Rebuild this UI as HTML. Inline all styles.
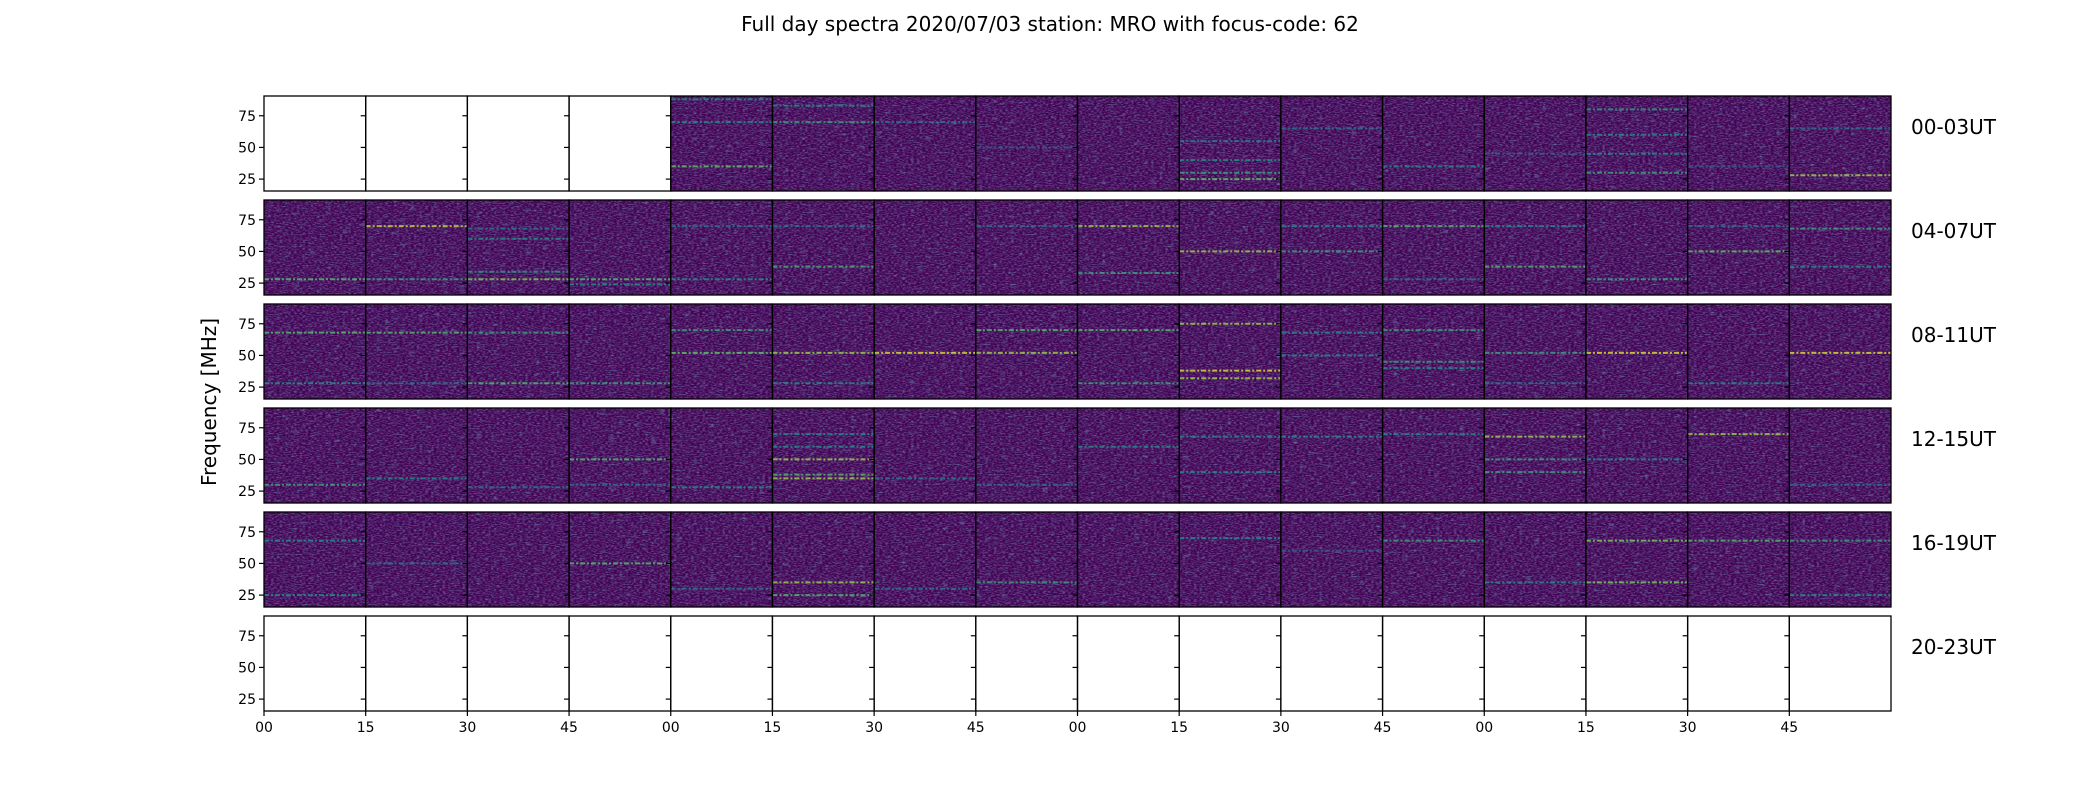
<!DOCTYPE html>
<html><head><meta charset="utf-8"><style>
body{margin:0;background:#fff;}
svg{display:block;font-family:"DejaVu Sans","Liberation Sans",sans-serif;}
</style></head><body>
<svg id="chart" width="2100" height="800" viewBox="0 0 2100 800">
<defs>
<filter id="noise" x="0" y="0" width="100%" height="100%">
<feTurbulence type="fractalNoise" baseFrequency="0.35 0.9" numOctaves="2" seed="3"/>
<feColorMatrix type="matrix" values="0 0 0 0 0.22  0 0 0 0 0.33  0 0 0 0 0.55  1.3 0 0 0 -0.52"/>
</filter>
<filter id="noise2" x="0" y="0" width="100%" height="100%">
<feTurbulence type="fractalNoise" baseFrequency="0.12 0.5" numOctaves="1" seed="9"/>
<feColorMatrix type="matrix" values="0 0 0 0 0.16  0 0 0 0 0.47  0 0 0 0 0.56  1.6 0 0 0 -0.95"/>
</filter>
</defs>
<text x="1050" y="31" text-anchor="middle" font-size="20" fill="#000">Full day spectra 2020/07/03 station: MRO with focus-code: 62</text>
<text transform="translate(216,402) rotate(-90)" text-anchor="middle" font-size="20" fill="#000">Frequency [MHz]</text>
<g id="plots"></g>
</svg>
<script>
const rowLabels = ["00-03UT","04-07UT","08-11UT","12-15UT","16-19UT","20-23UT"];
const xTickLabels = ["00","15","30","45","00","15","30","45","00","15","30","45","00","15","30","45"];
const yTickValues = [25,50,75];
const emptyPanels = [[0,0],[0,1],[0,2],[0,3],[5,0],[5,1],[5,2],[5,3],[5,4],[5,5],[5,6],[5,7],[5,8],[5,9],[5,10],[5,11],[5,12],[5,13],[5,14],[5,15]];
// bands: [row, col, freqMHz, level(0-1)]
const bands = [
[0,4,70,0.5],[0,4,35,0.75],[0,4,88,0.5],[0,5,83,0.5],[0,5,70,0.6],[0,6,70,0.4],[0,7,50,0.3],
[0,9,30,0.6],[0,9,25,0.75],[0,9,40,0.5],[0,9,55,0.45],[0,10,65,0.4],[0,11,35,0.5],[0,12,45,0.3],
[0,13,30,0.6],[0,13,45,0.5],[0,13,60,0.5],[0,13,80,0.55],[0,14,35,0.3],[0,15,28,0.85],[0,15,65,0.4],
[1,0,28,0.7],[1,1,70,0.9],[1,1,28,0.6],[1,2,28,0.8],[1,2,34,0.55],[1,2,60,0.5],[1,2,68,0.4],[1,3,28,0.7],[1,3,24,0.5],
[1,4,28,0.5],[1,4,70,0.4],[1,5,70,0.4],[1,5,38,0.65],[1,7,70,0.4],[1,8,70,0.85],[1,8,33,0.6],[1,9,50,0.85],
[1,10,50,0.6],[1,10,70,0.5],[1,11,70,0.7],[1,11,28,0.4],[1,12,70,0.5],[1,12,38,0.7],[1,13,28,0.6],[1,14,50,0.75],[1,14,70,0.4],[1,15,68,0.6],[1,15,38,0.5],
[2,0,68,0.7],[2,0,28,0.5],[2,1,68,0.7],[2,1,28,0.4],[2,2,68,0.6],[2,2,28,0.7],[2,3,28,0.6],[2,4,70,0.6],[2,4,52,0.75],
[2,5,52,0.85],[2,5,28,0.5],[2,6,52,0.95],[2,7,52,0.85],[2,7,70,0.7],[2,8,70,0.7],[2,8,28,0.6],[2,9,38,0.95],[2,9,32,0.85],[2,9,75,0.85],
[2,10,50,0.5],[2,10,68,0.5],[2,11,70,0.6],[2,11,45,0.6],[2,11,40,0.5],[2,12,52,0.6],[2,12,28,0.4],[2,13,52,0.95],[2,14,28,0.5],[2,15,52,0.95],
[3,0,30,0.6],[3,1,35,0.5],[3,2,28,0.4],[3,3,50,0.7],[3,3,30,0.4],[3,4,28,0.5],[3,5,35,0.85],[3,5,38,0.7],[3,5,50,0.85],[3,5,60,0.5],[3,5,70,0.5],
[3,6,35,0.4],[3,7,30,0.4],[3,8,60,0.5],[3,9,40,0.5],[3,9,68,0.5],[3,10,68,0.5],[3,11,70,0.5],[3,12,68,0.85],[3,12,40,0.6],[3,12,50,0.6],[3,13,50,0.5],[3,14,70,0.85],[3,15,30,0.4],
[4,0,68,0.5],[4,0,25,0.5],[4,1,50,0.4],[4,3,50,0.7],[4,4,30,0.4],[4,5,35,0.85],[4,5,25,0.7],[4,6,30,0.4],[4,7,35,0.6],[4,9,70,0.5],[4,10,60,0.3],
[4,11,68,0.6],[4,12,35,0.5],[4,13,35,0.8],[4,13,68,0.8],[4,14,68,0.7],[4,15,68,0.6],[4,15,25,0.5]
];
const L=264, R=1891, T0=96, PH=95, PITCH=104, NC=16, FMAX=90.6, FMIN=15.6;
const PW=(R-L)/NC;
const NS="http://www.w3.org/2000/svg";
const g=document.getElementById('plots');
function xCol(c){return L+c*PW;}
function yRow(r){return T0+r*PITCH;}
function yF(r,f){return yRow(r)+(FMAX-f)/(FMAX-FMIN)*PH;}
const vir=[[68,1,84],[59,82,139],[33,145,140],[94,201,98],[253,231,37]];
function viridis(t){t=Math.max(0,Math.min(1,t))*4;const i=Math.min(3,Math.floor(t)),u=t-i;const a=vir[i],b=vir[i+1];
return 'rgb('+a.map((v,k)=>Math.round(v+(b[k]-v)*u)).join(',')+')';}
function mk(tag,attrs){const e=document.createElementNS(NS,tag);for(const k in attrs)e.setAttribute(k,attrs[k]);return e;}
function isEmpty(r,c){return emptyPanels.some(p=>p[0]===r&&p[1]===c);}
for(let r=0;r<6;r++){
  for(let c=0;c<NC;c++){
    const x=xCol(c),y=yRow(r);
    if(!isEmpty(r,c)){
      const bg=mk('rect',{x:x,y:y,width:PW,height:PH,fill:'#440154'});
      
      
      g.appendChild(bg);
      const n=mk('rect',{x:x,y:y,width:PW,height:PH,filter:'url(#noise)'});
      
      
      g.appendChild(n);
      const n2=mk('rect',{x:x,y:y,width:PW,height:PH,filter:'url(#noise2)'});
      
      
      g.appendChild(n2);
    }
  }
}
bands.forEach(b=>{
  const [r,c,f,lv]=b;
  const y=yF(r,f);
  const ln=mk('line',{x1:xCol(c),x2:xCol(c)+PW,y1:y,y2:y,stroke:viridis(lv),'stroke-width':2,'stroke-dasharray':'5 2 2 2',opacity:0.8});
  
  
  g.appendChild(ln);
});
for(let r=0;r<6;r++){
  for(let c=0;c<NC;c++){
    const x=xCol(c),y=yRow(r);
    const fr=mk('rect',{x:x,y:y,width:PW,height:PH,fill:'none',stroke:'#000','stroke-width':1.3});
    
    
    g.appendChild(fr);
    yTickValues.forEach(v=>{
      const t=mk('line',{x1:x,x2:x-5,y1:yF(r,v),y2:yF(r,v),stroke:'#000','stroke-width':1.2});
      
      
      g.appendChild(t);
    });
  }
  yTickValues.forEach(v=>{
    const tl=mk('text',{x:L-8,y:yF(r,v)+5,'text-anchor':'end','font-size':14,fill:'#000'});
    tl.textContent=v;
    
    
    g.appendChild(tl);
  });
  const rl=mk('text',{x:1911,y:yRow(r)+38,'font-size':20,fill:'#000'});
  rl.textContent=rowLabels[r];
  
  
  g.appendChild(rl);
}
const by=yRow(5)+PH;
xTickLabels.forEach((lab,c)=>{
  const x=xCol(c);
  const t=mk('line',{x1:x,x2:x,y1:by,y2:by+5,stroke:'#000','stroke-width':1.2});
  
  
  g.appendChild(t);
  const tl=mk('text',{x:x,y:by+21,'text-anchor':'middle','font-size':14,fill:'#000'});
  tl.textContent=lab;
  
  
  g.appendChild(tl);
});
</script>
</body></html>
